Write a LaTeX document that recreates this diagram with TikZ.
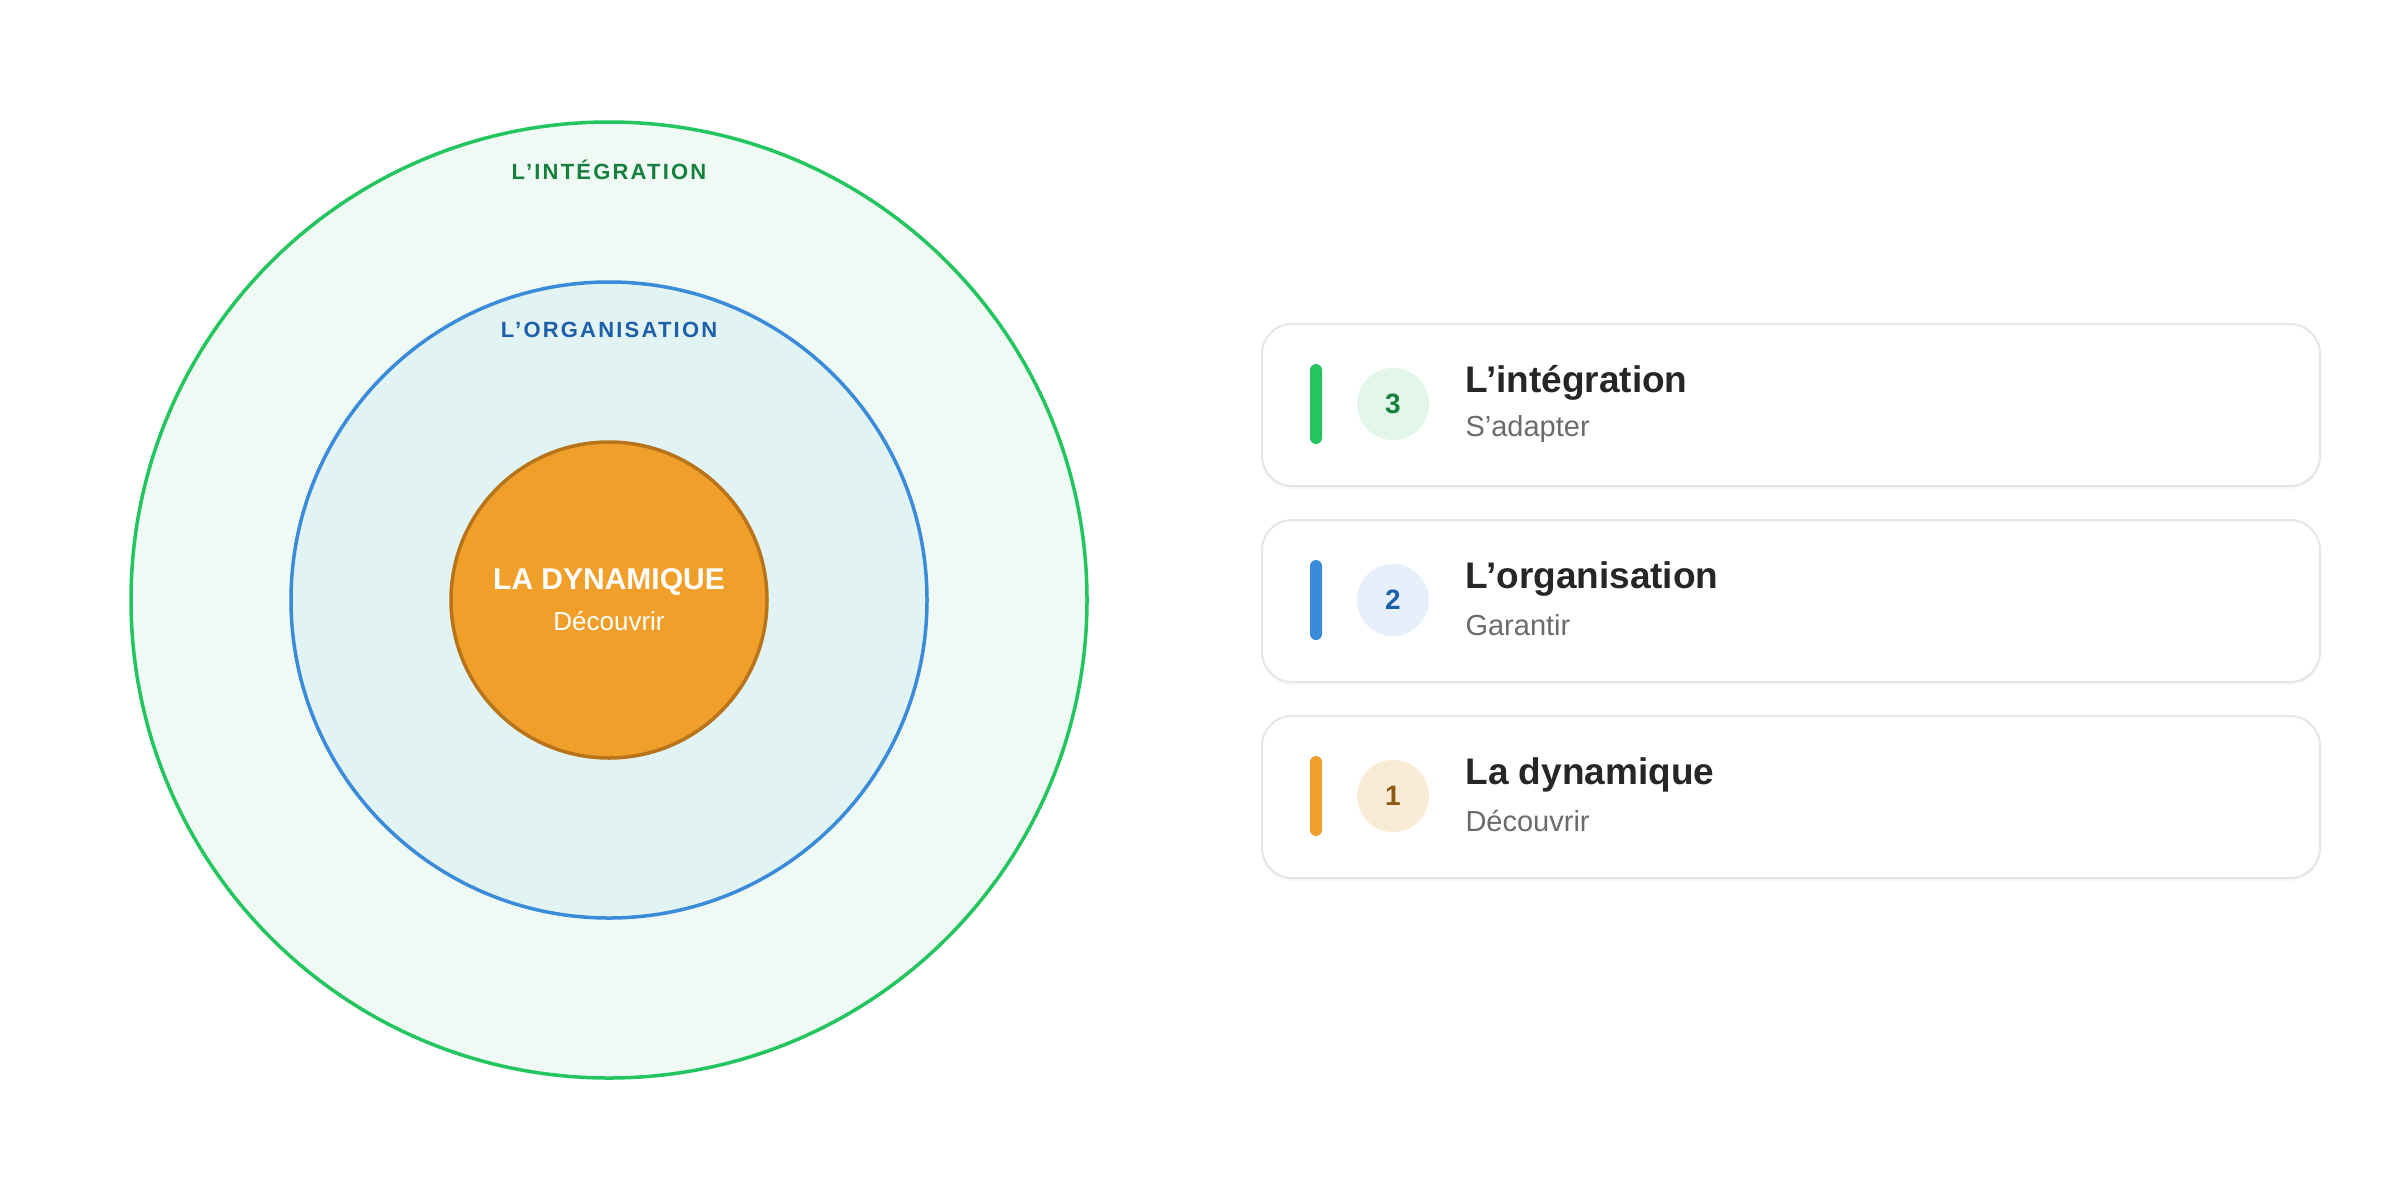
\documentclass[tikz,border=0pt]{standalone}
\usepackage{fontspec}
\setmainfont{Liberation Sans}
\usetikzlibrary{shadows}
\definecolor{gr}{HTML}{22C55E}\definecolor{dgr}{HTML}{15803D}\definecolor{grf}{HTML}{F0FAF4}
\definecolor{bl}{HTML}{3B8BDB}\definecolor{dbl}{HTML}{1D5FA8}\definecolor{blf}{HTML}{E1F3F2}
\definecolor{og}{HTML}{F09F2A}\definecolor{dog}{HTML}{B8741A}
\definecolor{grb}{HTML}{E3F6EA}\definecolor{blb}{HTML}{E6F0FB}\definecolor{ogb}{HTML}{FAEBD7}\definecolor{ogn}{HTML}{8A5A10}
\definecolor{ttl}{HTML}{262626}\definecolor{sub}{HTML}{6B6B6B}\definecolor{bd}{HTML}{E6E6E6}
\begin{document}
\begin{tikzpicture}[x=1pt,y=-1pt,
 ring/.style={circle,line width=3.5pt,inner sep=0},
 card/.style={draw=bd,line width=2pt,fill=white,rounded corners=30pt,minimum width=1058pt,minimum height=162pt,anchor=north west,drop shadow={opacity=0.06,shadow xshift=0pt,shadow yshift=-3pt}},
 bar/.style={rounded corners=6pt,minimum width=12pt,minimum height=80pt,inner sep=0},
 badge/.style={circle,minimum size=72pt,inner sep=0,font=\fontsize{28}{30}\selectfont\bfseries},
 ttl/.style={anchor=west,text=ttl,font=\fontsize{37}{40}\selectfont\bfseries},
 sub/.style={anchor=west,text=sub,font=\fontsize{29}{32}\selectfont},
 cl/.style={font=\fontsize{22}{24}\selectfont\bfseries\addfontfeatures{LetterSpace=10}}]
\useasboundingbox (0,0) rectangle (2400,1200);
\node[ring,draw=gr,fill=grf,minimum size=956pt] (c3) at (609,600) {};
\node[ring,draw=bl,fill=blf,minimum size=636pt] (c2) at (609,600) {};
\node[ring,draw=dog,fill=og,minimum size=316pt] (c1) at (609,600) {};
\node[cl,text=dgr] (l3) at (609,170) {L'INTÉGRATION};
\node[cl,text=dbl] (l2) at (609,330) {L'ORGANISATION};
\node[text=white,font=\fontsize{30}{32}\selectfont\bfseries] (l1) at (609,582) {LA DYNAMIQUE};
\node[text=white,font=\fontsize{26}{28}\selectfont] (l1s) at (609,621) {Découvrir};
\foreach \i/\y/\c/\cb/\cn/\t/\s in {3/323/gr/grb/dgr/L'intégration/S'adapter, 2/519/bl/blb/dbl/L'organisation/Garantir, 1/715/og/ogb/ogn/La dynamique/Découvrir}{
 \node[card] (k\i) at (1261,\y) {};
 \node[bar,fill=\c] (b\i) at (1316,\y+81) {};
 \node[badge,fill=\cb,text=\cn] (n\i) at (1393,\y+81) {\i};
 \node[ttl] (t\i) at (1462,\y+60) {\t};
 \node[sub] (s\i) at (1462,\y+106) {\s};
}
\end{tikzpicture}
\end{document}
